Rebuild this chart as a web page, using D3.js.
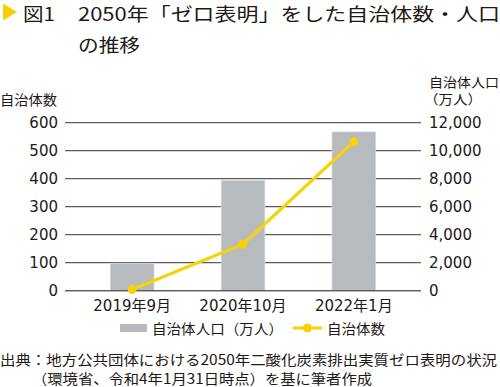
<!DOCTYPE html>
<html>
<head>
<meta charset="utf-8">
<script src="https://cdn.jsdelivr.net/npm/d3@7"></script>
<style>
  html, body { margin: 0; padding: 0; background: #fff; }
  svg { display: block; font-family: "DejaVu Sans", "Noto Sans CJK JP", sans-serif; }
  text { fill: #231815; }
</style>
</head>
<body>
<div id="chart"></div>
<script>
// 値は図から読み取った推定値
const categories = ['2019年9月', '2020年10月', '2022年1月'];
const population = [1960, 7860, 11340];   // 自治体人口（万人）
const municipalities = [4, 166, 532];     // 自治体数
const leftTicks = [0, 100, 200, 300, 400, 500, 600];
const rightTicks = [0, 2000, 4000, 6000, 8000, 10000, 12000];

const width = 500, height = 387;
const plot = { left: 65, right: 421, top: 122.7, bottom: 290.7 };
const barColor = '#b7bbbe';
const lineColor = '#f7d20a';
const cjk = '"Noto Sans CJK JP", sans-serif';

const data = categories.map((c, i) => ({ cat: c, pop: population[i], num: municipalities[i] }));

const svg = d3.select('#chart').append('svg')
  .attr('width', width)
  .attr('height', height);

const x = d3.scaleBand()
  .domain(categories)
  .range([plot.left, plot.right])
  .paddingInner(0.607)
  .paddingOuter(0.41);

const yL = d3.scaleLinear().domain([0, 600]).range([plot.bottom, plot.top]);
const yR = d3.scaleLinear().domain([0, 12000]).range([plot.bottom, plot.top]);

// --- タイトル ---
svg.append('path')
  .attr('d', d3.line()([[3, 3.5], [17, 12], [3, 20.5]]) + 'Z')
  .attr('fill', '#f8d000');
svg.append('text').attr('x', 23).attr('y', 21)
  .style('font-family', cjk).style('font-size', '18px')
  .attr('textLength', 32).attr('lengthAdjust', 'spacingAndGlyphs')
  .text('図1');
svg.append('text').attr('x', 78).attr('y', 21)
  .style('font-family', cjk).style('font-size', '18px')
  .attr('textLength', 422).attr('lengthAdjust', 'spacingAndGlyphs')
  .text('2050年「ゼロ表明」をした自治体数・人口');
svg.append('text').attr('x', 78).attr('y', 52)
  .style('font-family', cjk).style('font-size', '18px')
  .attr('textLength', 62).attr('lengthAdjust', 'spacingAndGlyphs')
  .text('の推移');

// --- グリッド線（左軸の目盛りに合わせる） ---
svg.append('g')
  .selectAll('line')
  .data(leftTicks)
  .join('line')
  .attr('x1', plot.left)
  .attr('x2', plot.right)
  .attr('y1', d => yL(d))
  .attr('y2', d => yL(d))
  .attr('stroke', '#5f5b5a')
  .attr('stroke-width', 1.3);

// 左軸ラベル
svg.append('g')
  .selectAll('text')
  .data(leftTicks)
  .join('text')
  .attr('x', 58)
  .attr('y', d => yL(d))
  .attr('dy', '0.36em')
  .attr('text-anchor', 'end')
  .style('font-size', '15px')
  .text(d => d);

// 右軸ラベル
svg.append('g')
  .selectAll('text')
  .data(rightTicks)
  .join('text')
  .attr('x', 429)
  .attr('y', d => yR(d))
  .attr('dy', '0.36em')
  .style('font-size', '15px')
  .text(d => d3.format(',')(d));

// 軸タイトル
svg.append('text').attr('x', 0).attr('y', 105)
  .style('font-family', cjk).style('font-size', '14px')
  .attr('textLength', 57).attr('lengthAdjust', 'spacingAndGlyphs')
  .text('自治体数');
svg.append('text').attr('x', 429).attr('y', 87)
  .style('font-family', cjk).style('font-size', '13px')
  .attr('textLength', 70).attr('lengthAdjust', 'spacingAndGlyphs')
  .text('自治体人口');
svg.append('text').attr('x', 424).attr('y', 104)
  .style('font-family', cjk).style('font-size', '13px')
  .attr('textLength', 58).attr('lengthAdjust', 'spacingAndGlyphs')
  .text('（万人）');

// --- 棒（自治体人口・右軸） ---
svg.append('g')
  .selectAll('rect')
  .data(data)
  .join('rect')
  .attr('x', d => x(d.cat))
  .attr('width', x.bandwidth())
  .attr('y', d => yR(d.pop))
  .attr('height', d => yR(0) - yR(d.pop))
  .attr('fill', barColor)
  .attr('stroke', '#d3d6d8')
  .attr('stroke-width', 0.8);

// ゼロ線を棒の上に
svg.append('line')
  .attr('x1', plot.left).attr('x2', plot.right)
  .attr('y1', yL(0)).attr('y2', yL(0))
  .attr('stroke', '#5f5b5a').attr('stroke-width', 1.3);

// --- 折れ線（自治体数・左軸） ---
const line = d3.line()
  .x(d => x(d.cat) + x.bandwidth() / 2)
  .y(d => yL(d.num));

svg.append('path')
  .datum(data)
  .attr('fill', 'none')
  .attr('stroke', lineColor)
  .attr('stroke-width', 3.2)
  .attr('d', line);

svg.append('g')
  .selectAll('circle')
  .data(data)
  .join('circle')
  .attr('cx', d => x(d.cat) + x.bandwidth() / 2)
  .attr('cy', d => yL(d.num))
  .attr('r', 4.5)
  .attr('fill', lineColor);

// x軸ラベル
svg.append('g')
  .selectAll('text')
  .data(categories)
  .join('text')
  .attr('x', d => x(d) + x.bandwidth() / 2)
  .attr('y', 310.5)
  .attr('text-anchor', 'middle')
  .style('font-size', '15px')
  .text(d => d);

// --- 凡例 ---
const legend = svg.append('g');
legend.append('rect')
  .attr('x', 120).attr('y', 324).attr('width', 27).attr('height', 8)
  .attr('fill', barColor);
legend.append('text').attr('x', 152).attr('y', 333.5)
  .style('font-family', cjk).style('font-size', '14px')
  .attr('textLength', 131).attr('lengthAdjust', 'spacingAndGlyphs')
  .text('自治体人口（万人）');
legend.append('line')
  .attr('x1', 293).attr('x2', 322).attr('y1', 328).attr('y2', 328)
  .attr('stroke', lineColor).attr('stroke-width', 3);
legend.append('circle')
  .attr('cx', 307.5).attr('cy', 328).attr('r', 4.5)
  .attr('fill', lineColor);
legend.append('text').attr('x', 327).attr('y', 333.5)
  .style('font-family', cjk).style('font-size', '14px')
  .attr('textLength', 58).attr('lengthAdjust', 'spacingAndGlyphs')
  .text('自治体数');

// --- 出典 ---
svg.append('text').attr('x', 0).attr('y', 365)
  .style('font-family', cjk).style('font-size', '14px')
  .attr('textLength', 497).attr('lengthAdjust', 'spacingAndGlyphs')
  .text('出典：地方公共団体における2050年二酸化炭素排出実質ゼロ表明の状況');
svg.append('text').attr('x', 32).attr('y', 384)
  .style('font-family', cjk).style('font-size', '14px')
  .attr('textLength', 340).attr('lengthAdjust', 'spacingAndGlyphs')
  .text('（環境省、令和4年1月31日時点）を基に筆者作成');
</script>
</body>
</html>
